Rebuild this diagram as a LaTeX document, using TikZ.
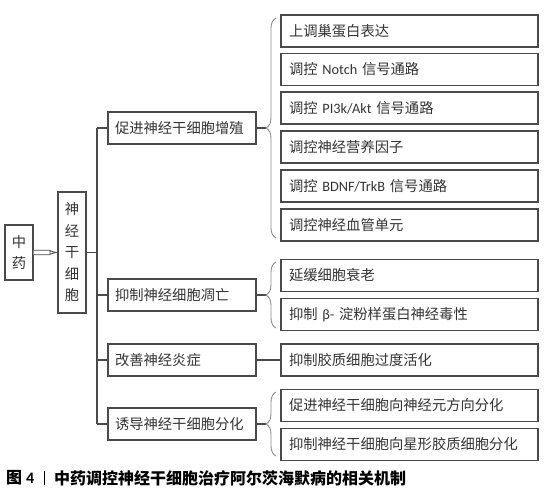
\documentclass[tikz,border=0pt]{standalone}
\usepackage{fontspec}
\setmainfont{Noto Sans CJK SC}
\newfontfamily\lat{Carlito}
\usetikzlibrary{arrows.meta,decorations.pathreplacing,calc}
\definecolor{boxline}{HTML}{4A4A4A}
\definecolor{txt}{HTML}{333333}
\definecolor{bracec}{HTML}{8A8A8A}
\begin{document}
\begin{tikzpicture}[x=1pt,y=-1pt,
  box/.style={draw=boxline,line width=1.1pt,text=txt,font=\fontsize{14.3}{16}\selectfont,inner sep=0pt},
  rbox/.style={box,minimum width=257pt,minimum height=32pt,text width=241pt,align=left},
  bbox/.style={box,minimum width=148pt,minimum height=32pt,text width=134pt,align=left},
  conn/.style={draw=boxline,line width=1.1pt},
  bracestyle/.style={draw=bracec,line width=0.9pt,decorate,decoration={brace,amplitude=10pt}},
  captxt/.style={inner sep=0pt,text=black,font=\fontsize{16}{18}\selectfont\bfseries}
]
\useasboundingbox (0,0) rectangle (547,499);
% left column
\node[box,minimum width=28pt,minimum height=55pt,align=center,font=\fontsize{14.3}{21}\selectfont] (zy) at (19,252.5) {中\\药};
\node[box,minimum width=28pt,minimum height=121pt,align=center,font=\fontsize{14.3}{21.5}\selectfont] (sj) at (72,252.5) {神\\经\\干\\细\\胞};
% hollow arrow
\draw[draw=boxline,line width=0.8pt,fill=white,line join=miter]
  ([yshift=-2.2pt]zy.east) -- ++(16.5,0) -- ++(0,-3.8) -- ([xshift=-1.5pt]sj.west) -- ($([yshift=2.2pt]zy.east)+(16.5,0)+(0,3.8)$) -- ++(0,-3.8) -- ([yshift=2.2pt]zy.east);
% branch boxes
\node[bbox] (b1) at (182,128) {促进神经干细胞增殖};
\node[bbox] (b2) at (182,295) {抑制神经细胞凋亡};
\node[bbox] (b3) at (182,360) {改善神经炎症};
\node[bbox] (b4) at (182,424) {诱导神经干细胞分化};
% trunk
\coordinate (t1) at (97,128);
\coordinate (t4) at (97,424);
\draw[conn] (t1) -- (t4);
\draw[conn] (sj.east) -- (sj.east -| t1);
\draw[conn] (t1) -- (b1.west);
\draw[conn] (b2.west -| t1) -- (b2.west);
\draw[conn] (b3.west -| t1) -- (b3.west);
\draw[conn] (t4) -- (b4.west);
% right boxes
\node[rbox] (r1) at (409.5,31) {上调巢蛋白表达};
\node[rbox] (r2) at (409.5,69.5) {调控 {\lat Notch} 信号通路};
\node[rbox] (r3) at (409.5,108) {调控 {\lat PI3k/Akt} 信号通路};
\node[rbox] (r4) at (409.5,147) {调控神经营养因子};
\node[rbox] (r5) at (409.5,186) {调控 {\lat BDNF/TrkB} 信号通路};
\node[rbox] (r6) at (409.5,225) {调控神经血管单元};
\node[rbox] (r7) at (409.5,275.5) {延缓细胞衰老};
\node[rbox] (r8) at (409.5,314.5) {抑制 {\lat β-} 淀粉样蛋白神经毒性};
\node[rbox] (r9) at (409.5,360) {抑制胶质细胞过度活化};
\node[rbox] (r10) at (409.5,405.5) {促进神经干细胞向神经元方向分化};
\node[rbox] (r11) at (409.5,444.5) {抑制神经干细胞向星形胶质细胞分化};
% braces and links
\coordinate (k1) at (266,128);
\coordinate (k2) at (266,295);
\coordinate (k4) at (266,424);
\draw[conn] (b1.east) -- (k1);
\draw[conn] (b2.east) -- (k2);
\draw[conn] (b4.east) -- (k4);
\draw[conn] (b3.east) -- (r9.west);
\draw[bracestyle] (276,238) -- (276,18);
\draw[bracestyle] (276,328) -- (276,262);
\draw[bracestyle] (276,456) -- (276,392);
% caption
\node[captxt,anchor=west] (capa) at (6,478) {图\hspace{4pt}{\lat\bfseries 4}};
\node[captxt,anchor=west] (capb) at (54,478) {中药调控神经干细胞治疗阿尔茨海默病的相关机制};
\draw[black,line width=0.9pt] (44.5,471) -- (44.5,485);
\end{tikzpicture}
\end{document}
